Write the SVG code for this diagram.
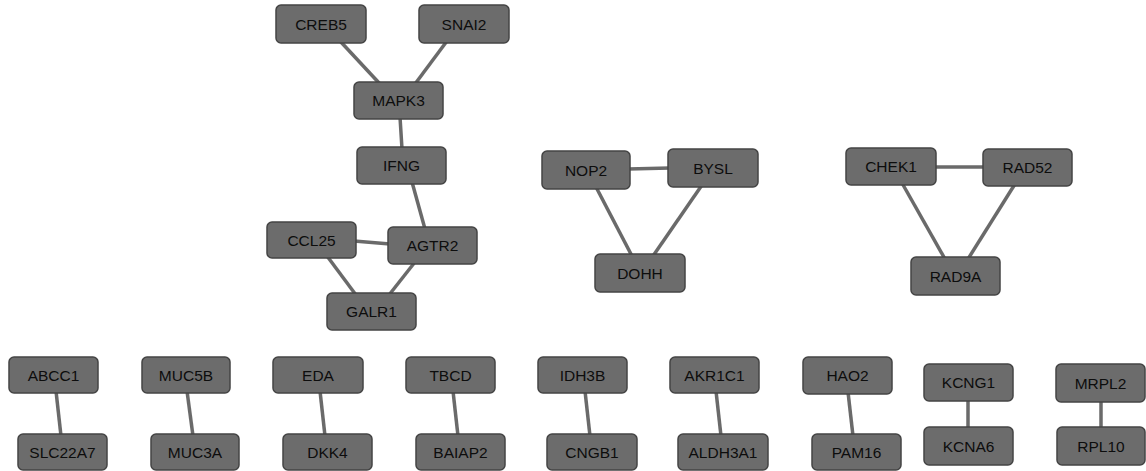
<svg xmlns="http://www.w3.org/2000/svg" width="1146" height="471" viewBox="0 0 1146 471">
<style>
.n rect{fill:#6c6c6c;stroke:#444;stroke-width:1.5}
.n text{font-family:"Liberation Sans",Arial,sans-serif;font-size:15.5px;fill:#0d0d0d;text-anchor:middle}
#edges line{stroke:#6a6a6a;stroke-width:3.5;stroke-linecap:butt}
</style>
<rect width="1146" height="471" fill="#fff"/>
<g id="edges">
<line x1="340" y1="41" x2="380" y2="84"/>
<line x1="447" y1="41" x2="415" y2="84"/>
<line x1="400" y1="117" x2="402" y2="149"/>
<line x1="412" y1="182" x2="425" y2="229"/>
<line x1="354" y1="241" x2="390" y2="244"/>
<line x1="327" y1="256" x2="356" y2="295"/>
<line x1="415" y1="262" x2="389" y2="295"/>
<line x1="628" y1="169" x2="670" y2="168"/>
<line x1="596" y1="187" x2="632" y2="256"/>
<line x1="702" y1="185" x2="653" y2="256"/>
<line x1="934" y1="167" x2="985" y2="167"/>
<line x1="902" y1="183" x2="945" y2="259"/>
<line x1="1015" y1="184" x2="968" y2="259"/>
<line x1="56" y1="391" x2="61" y2="436"/>
<line x1="187" y1="391" x2="193" y2="436"/>
<line x1="320" y1="391" x2="325" y2="436"/>
<line x1="453" y1="391" x2="458" y2="436"/>
<line x1="585" y1="391" x2="590" y2="436"/>
<line x1="716" y1="391" x2="721" y2="436"/>
<line x1="848" y1="392" x2="853" y2="436"/>
<line x1="968" y1="399" x2="968" y2="429"/>
<line x1="1101" y1="400" x2="1101" y2="429"/>
</g>
<g id="CREB5" class="n"><rect x="276" y="5" width="90" height="38" rx="5"/><text x="321" y="29.5">CREB5</text></g>
<g id="SNAI2" class="n"><rect x="419" y="5" width="90" height="38" rx="5"/><text x="464" y="29.5">SNAI2</text></g>
<g id="MAPK3" class="n"><rect x="354" y="82" width="89" height="37" rx="5"/><text x="398.5" y="106">MAPK3</text></g>
<g id="IFNG" class="n"><rect x="357" y="147" width="89" height="37" rx="5"/><text x="401.5" y="171">IFNG</text></g>
<g id="CCL25" class="n"><rect x="267" y="222" width="89" height="36" rx="5"/><text x="311.5" y="245.5">CCL25</text></g>
<g id="AGTR2" class="n"><rect x="388" y="227" width="89" height="37" rx="5"/><text x="432.5" y="251">AGTR2</text></g>
<g id="GALR1" class="n"><rect x="327" y="293" width="89" height="37" rx="5"/><text x="371.5" y="317">GALR1</text></g>
<g id="NOP2" class="n"><rect x="542" y="151" width="88" height="38" rx="5"/><text x="586" y="175.5">NOP2</text></g>
<g id="BYSL" class="n"><rect x="668" y="149" width="90" height="38" rx="5"/><text x="713" y="173.5">BYSL</text></g>
<g id="DOHH" class="n"><rect x="595" y="254" width="90" height="38" rx="5"/><text x="640" y="278.5">DOHH</text></g>
<g id="CHEK1" class="n"><rect x="846" y="148" width="90" height="37" rx="5"/><text x="891" y="172">CHEK1</text></g>
<g id="RAD52" class="n"><rect x="983" y="149" width="89" height="37" rx="5"/><text x="1027.5" y="173">RAD52</text></g>
<g id="RAD9A" class="n"><rect x="911" y="257" width="89" height="38" rx="5"/><text x="955.5" y="281.5">RAD9A</text></g>
<g id="ABCC1" class="n"><rect x="9" y="357" width="89" height="36" rx="5"/><text x="53.5" y="380.5">ABCC1</text></g>
<g id="SLC22A7" class="n"><rect x="18" y="434" width="89" height="36" rx="5"/><text x="62.5" y="457.5">SLC22A7</text></g>
<g id="MUC5B" class="n"><rect x="142" y="357" width="88" height="36" rx="5"/><text x="186" y="380.5">MUC5B</text></g>
<g id="MUC3A" class="n"><rect x="151" y="434" width="88" height="36" rx="5"/><text x="195" y="457.5">MUC3A</text></g>
<g id="EDA" class="n"><rect x="273" y="357" width="90" height="36" rx="5"/><text x="318" y="380.5">EDA</text></g>
<g id="DKK4" class="n"><rect x="283" y="434" width="89" height="36" rx="5"/><text x="327.5" y="457.5">DKK4</text></g>
<g id="TBCD" class="n"><rect x="406" y="357" width="89" height="36" rx="5"/><text x="450.5" y="380.5">TBCD</text></g>
<g id="BAIAP2" class="n"><rect x="416" y="434" width="89" height="36" rx="5"/><text x="460.5" y="457.5">BAIAP2</text></g>
<g id="IDH3B" class="n"><rect x="538" y="357" width="89" height="36" rx="5"/><text x="582.5" y="380.5">IDH3B</text></g>
<g id="CNGB1" class="n"><rect x="547" y="434" width="90" height="36" rx="5"/><text x="592" y="457.5">CNGB1</text></g>
<g id="AKR1C1" class="n"><rect x="670" y="357" width="89" height="36" rx="5"/><text x="714.5" y="380.5">AKR1C1</text></g>
<g id="ALDH3A1" class="n"><rect x="678" y="434" width="90" height="36" rx="5"/><text x="723" y="457.5">ALDH3A1</text></g>
<g id="HAO2" class="n"><rect x="803" y="357" width="89" height="37" rx="5"/><text x="847.5" y="381">HAO2</text></g>
<g id="PAM16" class="n"><rect x="812" y="434" width="89" height="36" rx="5"/><text x="856.5" y="457.5">PAM16</text></g>
<g id="KCNG1" class="n"><rect x="924" y="364" width="89" height="37" rx="5"/><text x="968.5" y="388">KCNG1</text></g>
<g id="KCNA6" class="n"><rect x="924" y="427" width="89" height="38" rx="5"/><text x="968.5" y="451.5">KCNA6</text></g>
<g id="MRPL2" class="n"><rect x="1056" y="364" width="89" height="38" rx="5"/><text x="1100.5" y="388.5">MRPL2</text></g>
<g id="RPL10" class="n"><rect x="1057" y="427" width="88" height="38" rx="5"/><text x="1101" y="451.5">RPL10</text></g>
</svg>
